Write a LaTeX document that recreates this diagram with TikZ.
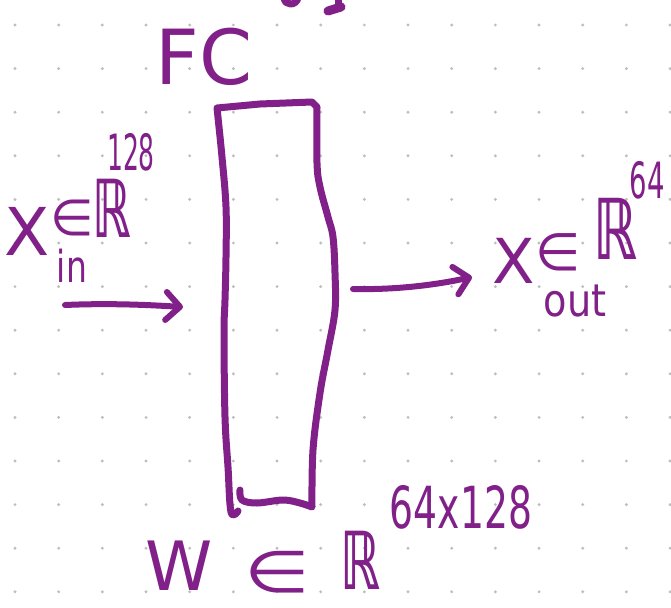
\documentclass[tikz,border=0pt]{standalone}
\usepackage{fontspec}
\usepackage{graphicx}
\newfontfamily\hand{DejaVu Sans}
\newcommand\hsz[1]{\hand\fontsize{#1}{#1}\selectfont}
\usetikzlibrary{arrows.meta}
\definecolor{ink}{RGB}{128,32,136}
\definecolor{dotc}{RGB}{190,190,190}
\begin{document}
\begin{tikzpicture}[x=1pt,y=-1pt,
  stroke/.style={draw=ink,line width=7pt,line cap=round,line join=round},
  lbl/.style={text=ink,inner sep=0pt,outer sep=0pt},
  arr/.style={stroke,line width=6pt,-{Straight Barb[length=14pt,width=28pt,round]}}]
\fill[white] (0,0) rectangle (671,607);
\useasboundingbox (0,0) rectangle (671,607);
% dotted grid
\foreach \i in {0,...,15}{\foreach \j in {0,...,13}{
  \fill[dotc] ({15+43.67*\i},{25+43.6*\j}) circle (1.6pt);}}
% cut-off fragments at the top
\draw[stroke] (284,-2) .. controls (285,6) and (296,6) .. (298,-2);
\draw[stroke] (338,-2) -- (338,8);
\draw[stroke,line width=9pt] (328,11) -- (341,7);
% FC layer box
\draw[stroke] plot[smooth,tension=0.6] coordinates {(238,511) (231,512) (228,467) (225,417) (224,333) (225,300) (226,257) (226,207) (222,157) (217,108)}
  -- (260,104) -- (312,102) -- (317,107)
  -- plot[smooth,tension=0.6] coordinates {(317,107) (317,163) (320,187) (328,217) (333,237) (335,273) (335,310) (328,350) (320,393) (313,450) (312,507)}
  -- plot[smooth,tension=0.6] coordinates {(312,507) (300,503) (283,500) (257,503) (242,500) (240,490)};
% labels
\node[lbl,font=\hsz{76}] (fc) at (204,57) {FC};
\node[lbl,font=\hsz{66}] (xin) at (27,231) {X};
\node[lbl,font=\hsz{50}] (ein) at (72,218) {∈};
\node[lbl,font=\hsz{80}] (rin) at (112,208) {\scalebox{0.6}[1]{\bfseries ℝ}};
\node[lbl,font=\hsz{50}] (supin) at (131,152) {\scalebox{0.5}[1]{128}};
\node[lbl,font=\hsz{44}] (subin) at (72,266) {\scalebox{0.75}[1]{in}};
\node[lbl,font=\hsz{62}] (xout) at (514,261) {X};
\node[lbl,font=\hsz{52}] (eout) at (558,252) {∈};
\node[lbl,font=\hsz{84}] (rout) at (615,229) {\scalebox{0.65}[1]{\bfseries ℝ}};
\node[lbl,font=\hsz{50}] (supout) at (647,180) {\scalebox{0.55}[1]{64}};
\node[lbl,font=\hsz{45}] (subout) at (575,301) {\scalebox{0.85}[1]{out}};
\node[lbl,font=\hsz{68}] (w) at (179,566) {W};
\node[lbl,font=\hsz{58}] (ew) at (277,572) {\scalebox{1.3}[1]{∈}};
\node[lbl,font=\hsz{80}] (rw) at (360,560) {\scalebox{0.62}[1]{\bfseries ℝ}};
\node[lbl,font=\hsz{58}] (supw) at (461,507) {\scalebox{0.65}[1]{64x128}};
% arrows
\coordinate (ina) at (65,305);
\coordinate (inb) at (183,307);
\coordinate (outa) at (353,289);
\coordinate (outb) at (472,277);
\draw[arr] (ina) .. controls (110,303) and (150,305) .. (inb);
\draw[arr] (outa) .. controls (400,290) and (440,284) .. (outb);
\end{tikzpicture}
\end{document}
